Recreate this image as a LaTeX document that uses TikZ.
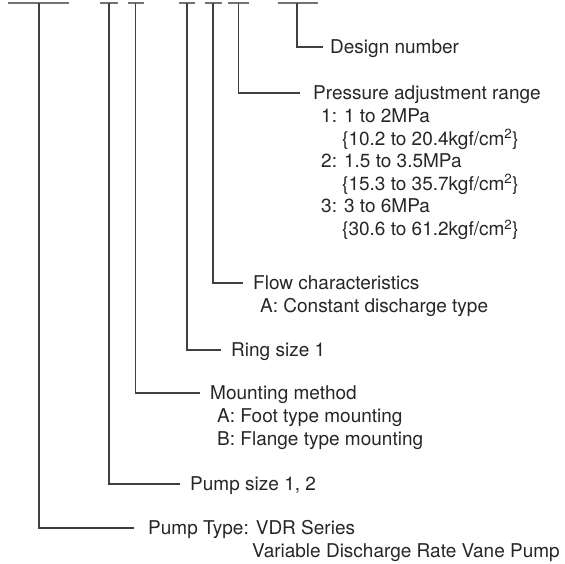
\documentclass[tikz,border=0pt]{standalone}
\usepackage{fontspec}
\setmainfont{TeX Gyre Heros}
\begin{document}
\begin{tikzpicture}[x=1pt,y=-1pt,
  bar/.style={line width=1.6pt, draw=black!55},
  leg/.style={line width=1.1pt, draw=black!75},
  lbl/.style={anchor=base west, inner sep=0pt, font=\fontsize{19}{22}\selectfont, text=black!85}]
\useasboundingbox (0,0) rectangle (565,563);
% top bars
\draw[bar] (8,3) -- (69,3);
\draw[bar] (100,3) -- (118,3);
\draw[bar] (128,3) -- (144,3);
\draw[bar] (179,3) -- (195,3);
\draw[bar] (205,3) -- (222,3);
\draw[bar] (228,3) -- (249,3);
\draw[bar] (278,3) -- (318,3);
% tops of legs
\coordinate (t1) at (39,3);
\coordinate (t2) at (109,3);
\coordinate (t3) at (135.5,3);
\coordinate (t4) at (187,3);
\coordinate (t5) at (213,3);
\coordinate (t6) at (238.5,3);
\coordinate (t7) at (297,3);
% ends of legs
\coordinate (e1) at (134,528);
\coordinate (e2) at (180,484);
\coordinate (e3) at (200,393);
\coordinate (e4) at (221,350);
\coordinate (e5) at (243,283);
\coordinate (e6) at (300,93);
\coordinate (e7) at (323,47);
\draw[leg] (t1) |- (e1);
\draw[leg] (t2) |- (e2);
\draw[leg] (t3) |- (e3);
\draw[leg] (t4) |- (e4);
\draw[leg] (t5) |- (e5);
\draw[leg] (t6) |- (e6);
\draw[leg] (t7) |- (e7);
% labels
\node[lbl] (dn) at (330,53.8) {Design number};
\node[lbl] (pr) at (313,99.8) {Pressure adjustment range};
\node[lbl] (pr1) at (321,122.4) {1: 1 to 2MPa};
\node[lbl] (pr1b) at (342,145) {\{10.2 to 20.4kgf/cm\textsuperscript{2}\}};
\node[lbl] (pr2) at (321,167.6) {2: 1.5 to 3.5MPa};
\node[lbl] (pr2b) at (342,190.2) {\{15.3 to 35.7kgf/cm\textsuperscript{2}\}};
\node[lbl] (pr3) at (321,212.8) {3: 3 to 6MPa};
\node[lbl] (pr3b) at (342,235.4) {\{30.6 to 61.2kgf/cm\textsuperscript{2}\}};
\node[lbl] (fc) at (253,289.8) {Flow characteristics};
\node[lbl] (fca) at (260,312.4) {A: Constant discharge type};
\node[lbl] (rs) at (231,356.8) {Ring size 1};
\node[lbl] (mm) at (210,399.8) {Mounting method};
\node[lbl] (mma) at (217,422.4) {A: Foot type mounting};
\node[lbl] (mmb) at (217,445) {B: Flange type mounting};
\node[lbl] (ps) at (190,490.8) {Pump size 1, 2};
\node[lbl] (pt) at (148,534.8) {Pump Type: VDR Series};
\node[lbl] (ptb) at (252,557.4) {Variable Discharge Rate Vane Pump};
\end{tikzpicture}
\end{document}
